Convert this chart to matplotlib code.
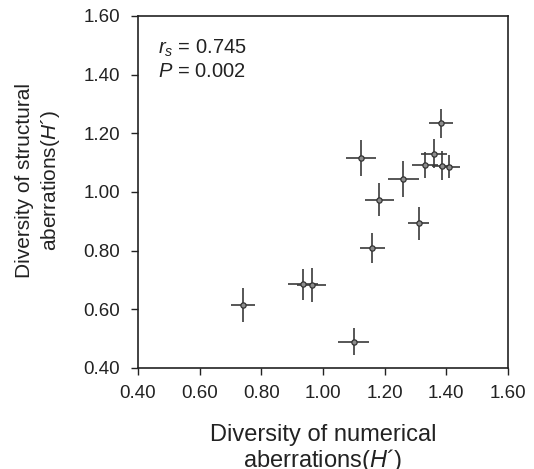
import numpy as np
import matplotlib
matplotlib.use("Agg")
import matplotlib.pyplot as plt

plt.rcParams["font.family"] = ["Liberation Sans", "DejaVu Sans"]
plt.rcParams["mathtext.fontset"] = "custom"
plt.rcParams["mathtext.rm"] = "Liberation Sans"
plt.rcParams["mathtext.it"] = "Liberation Sans:italic"

# numerical diversity (x), structural diversity (y) and their errors
x_vals = [0.741, 0.935, 0.963, 1.100, 1.160, 1.123, 1.261, 1.182, 1.310,
          1.383, 1.361, 1.332, 1.386, 1.410]
y_vals = [0.614, 0.686, 0.683, 0.490, 0.808, 1.115, 1.043, 0.974, 0.893,
          1.234, 1.130, 1.093, 1.090, 1.086]
x_err = [0.039, 0.050, 0.048, 0.050, 0.040, 0.049, 0.049, 0.047, 0.035,
         0.039, 0.042, 0.042, 0.033, 0.035]
y_err = [0.058, 0.053, 0.058, 0.046, 0.051, 0.062, 0.061, 0.057, 0.055,
         0.050, 0.049, 0.044, 0.049, 0.040]

ticks = [0.40, 0.60, 0.80, 1.00, 1.20, 1.40, 1.60]

fig = plt.figure(figsize=(5.34, 4.69), dpi=100)
ax = fig.add_axes([0.2584, 0.2154, 0.6929, 0.7505])

ax.errorbar(
    x_vals, y_vals, xerr=x_err, yerr=y_err,
    fmt="o", color="#3a3a3a", ecolor="#3a3a3a", elinewidth=1.2, capsize=0,
    markersize=3.8, markerfacecolor="#8c8c8c", markeredgecolor="#333333",
    markeredgewidth=0.9,
)

ax.set_xlim(0.40, 1.60)
ax.set_ylim(0.40, 1.60)
ax.set_xticks(ticks)
ax.set_yticks(ticks)
ax.set_xticklabels([f"{t:.2f}" for t in ticks])
ax.set_yticklabels([f"{t:.2f}" for t in ticks])
ax.tick_params(direction="out", length=5, width=1, labelsize=13.5,
               colors="#222222")
ax.tick_params(axis="x", pad=7)
ax.tick_params(axis="y", pad=8)
for side in ["left", "bottom", "right", "top"]:
    ax.spines[side].set_linewidth(1.2)
    ax.spines[side].set_color("#222222")

ax.set_xlabel("Diversity of numerical\naberrations($\\it{H}$\u00b4)",
              fontsize=17, color="#222222", linespacing=1.08)
ax.set_ylabel("Diversity of structural\naberrations($\\it{H}$\u00b4)",
              fontsize=15, color="#222222", linespacing=1.3)
ax.xaxis.set_label_coords(0.5, -0.158)
ax.yaxis.set_label_coords(-0.205, 0.534)

ax.text(0.054, 0.909, "$\\it{r}_{\\it{s}}$ = 0.745", transform=ax.transAxes,
        fontsize=14.5, va="center", ha="left", color="#222222")
ax.text(0.054, 0.841, "$\\it{P}$ = 0.002", transform=ax.transAxes,
        fontsize=14.5, va="center", ha="left", color="#222222")

plt.savefig("out.png", dpi=100)
